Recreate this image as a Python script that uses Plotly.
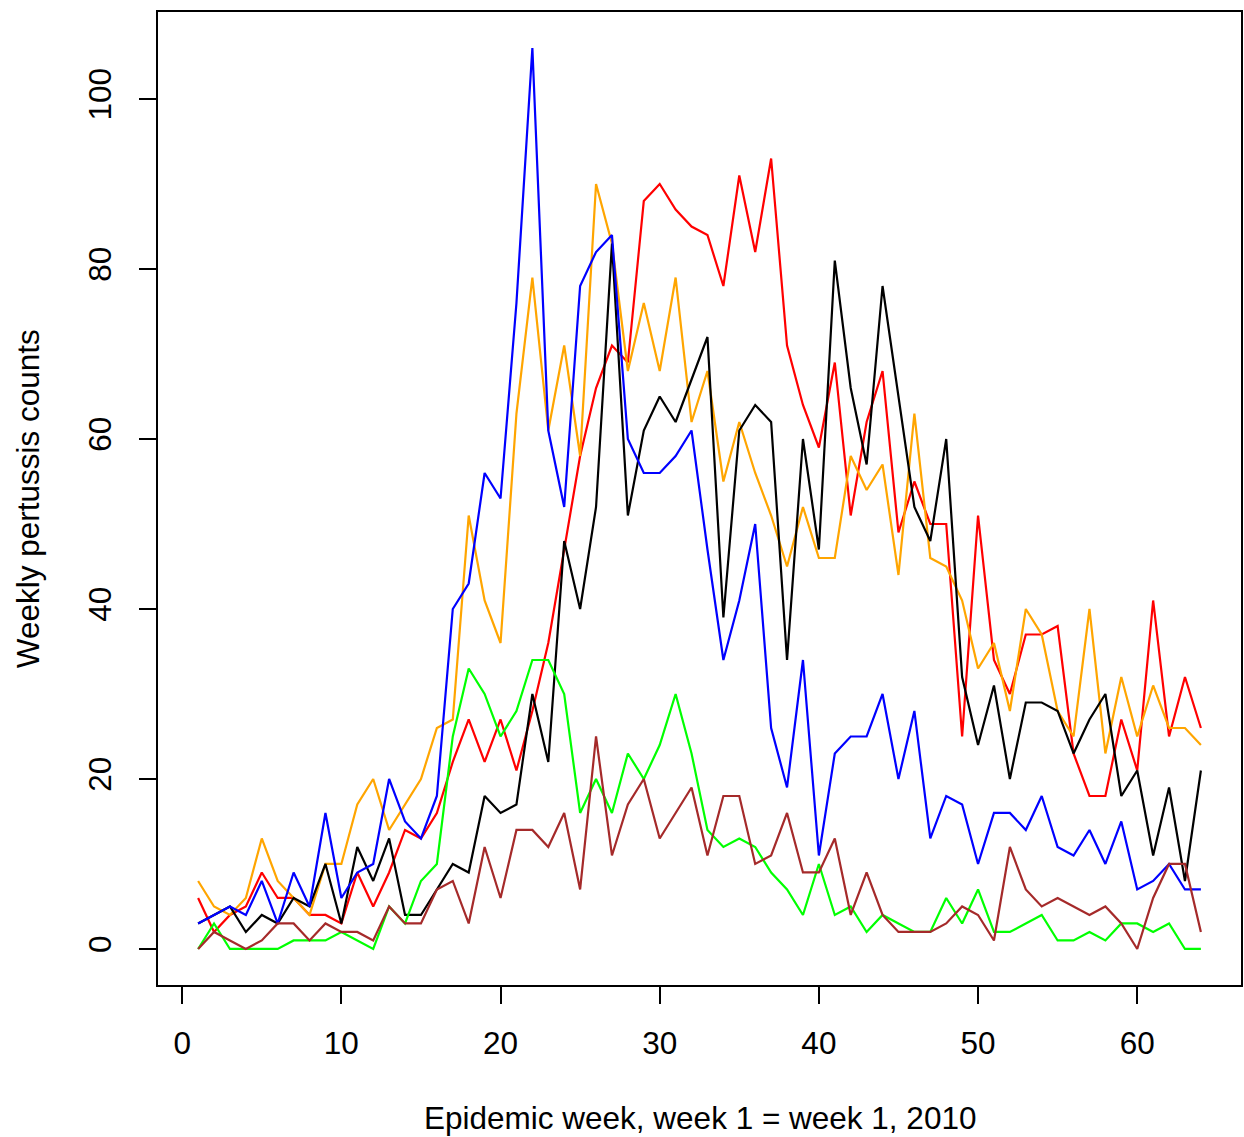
import plotly.graph_objects as go

weeks = list(range(1, 65))

red = [6, 2, 4, 5, 9, 6, 6, 4, 4, 3,
       9, 5, 9, 14, 13, 16, 22, 27, 22, 27,
       21, 28, 36, 47, 58, 66, 71, 69, 88, 90,
       87, 85, 84, 78, 91, 82, 93, 71, 64, 59,
       69, 51, 62, 68, 49, 55, 50, 50, 25, 51,
       34, 30, 37, 37, 38, 23, 18, 18, 27, 21,
       41, 25, 32, 26]

orange = [8, 5, 4, 6, 13, 8, 6, 4, 10, 10,
          17, 20, 14, 17, 20, 26, 27, 51, 41, 36,
          63, 79, 61, 71, 58, 90, 83, 68, 76, 68,
          79, 62, 68, 55, 62, 56, 51, 45, 52, 46,
          46, 58, 54, 57, 44, 63, 46, 45, 41, 33,
          36, 28, 40, 37, 28, 25, 40, 23, 32, 25,
          31, 26, 26, 24]

black = [3, 4, 5, 2, 4, 3, 6, 5, 10, 3,
         12, 8, 13, 4, 4, 7, 10, 9, 18, 16,
         17, 30, 22, 48, 40, 52, 83, 51, 61, 65,
         62, 67, 72, 39, 61, 64, 62, 34, 60, 47,
         81, 66, 57, 78, 65, 52, 48, 60, 32, 24,
         31, 20, 29, 29, 28, 23, 27, 30, 18, 21,
         11, 19, 8, 21]

blue = [3, 4, 5, 4, 8, 3, 9, 5, 16, 6,
        9, 10, 20, 15, 13, 18, 40, 43, 56, 53,
        76, 106, 61, 52, 78, 82, 84, 60, 56, 56,
        58, 61, 47, 34, 41, 50, 26, 19, 34, 11,
        23, 25, 25, 30, 20, 28, 13, 18, 17, 10,
        16, 16, 14, 18, 12, 11, 14, 10, 15, 7,
        8, 10, 7, 7]

green = [0, 3, 0, 0, 0, 0, 1, 1, 1, 2,
         1, 0, 5, 3, 8, 10, 25, 33, 30, 25,
         28, 34, 34, 30, 16, 20, 16, 23, 20, 24,
         30, 23, 14, 12, 13, 12, 9, 7, 4, 10,
         4, 5, 2, 4, 3, 2, 2, 6, 3, 7,
         2, 2, 3, 4, 1, 1, 2, 1, 3, 3,
         2, 3, 0, 0]

brown = [0, 2, 1, 0, 1, 3, 3, 1, 3, 2,
         2, 1, 5, 3, 3, 7, 8, 3, 12, 6,
         14, 14, 12, 16, 7, 25, 11, 17, 20, 13,
         16, 19, 11, 18, 18, 10, 11, 16, 9, 9,
         13, 4, 9, 4, 2, 2, 2, 3, 5, 4,
         1, 12, 7, 5, 6, 5, 4, 5, 3, 0,
         6, 10, 10, 2]

x_ticks = [0, 10, 20, 30, 40, 50, 60]
y_ticks = [0, 20, 40, 60, 80, 100]
x_title = "Epidemic week, week 1 = week 1, 2010"
y_title = "Weekly pertussis counts"

series = [
    ("red", red, "#FF0000"),
    ("orange", orange, "#FFA500"),
    ("black", black, "#000000"),
    ("blue", blue, "#0000FF"),
    ("green", green, "#00FF00"),
    ("brown", brown, "#A52A2A"),
]

fig = go.Figure()
for name, vals, col in series:
    fig.add_trace(go.Scatter(x=weeks, y=vals, mode="lines", name=name,
                             line=dict(color=col, width=2.2)))

FONT = "Liberation Sans, Arial, Helvetica, sans-serif"
FS = 31.5
W, H = 1244, 1137
L, R, T, B = 158, 1, 12, 152
pw, ph = W - L - R, H - T - B

axis_common = dict(showgrid=False, zeroline=False, showline=True, mirror=True,
                   linecolor="black", linewidth=1.5, ticks="outside",
                   ticklen=17, tickwidth=1.5, tickcolor="black",
                   tickfont=dict(family=FONT, size=FS, color="black"))

fig.update_layout(
    width=W, height=H, autosize=False,
    margin=dict(l=L, r=R, t=T, b=B),
    paper_bgcolor="white", plot_bgcolor="white",
    showlegend=False,
    xaxis=dict(range=[-1.52, 66.52], tickvals=x_ticks, ticklabelstandoff=12,
               **axis_common),
    yaxis=dict(range=[-4.24, 110.24], tickvals=y_ticks, tickangle=-90,
               ticklabelstandoff=16, **axis_common),
    annotations=[
        dict(text=x_title, xref="paper", yref="paper",
             x=(701 - L) / pw, y=(H - B - 1118) / ph,
             xanchor="center", yanchor="middle", showarrow=False,
             font=dict(family=FONT, size=FS, color="black")),
        dict(text=y_title, xref="paper", yref="paper",
             x=(28 - L) / pw, y=(H - B - 499) / ph, textangle=-90,
             xanchor="center", yanchor="middle", showarrow=False,
             font=dict(family=FONT, size=FS, color="black")),
    ],
)

fig.write_html(
    "out.html",
    config={"displayModeBar": False},
    post_script="document.body.style.margin='0';document.body.style.overflow='hidden';",
)
